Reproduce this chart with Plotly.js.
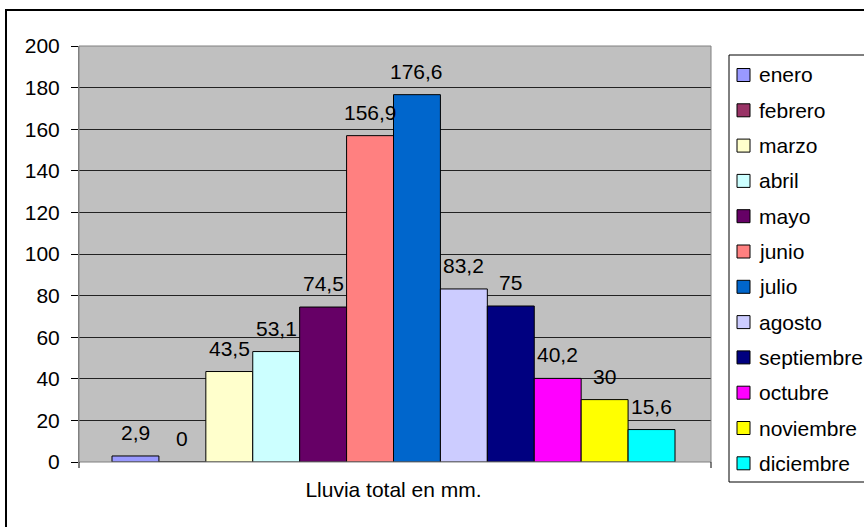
<!DOCTYPE html>
<html>
<head>
<meta charset="utf-8">
<script src="https://cdn.plot.ly/plotly-3.0.1.min.js"></script>
<style>html,body{margin:0;padding:0;background:#fff;}#chart{width:864px;height:527px;}</style>
</head>
<body>
<div id="chart"></div>
<script>
// ---- data ----
var category = 'Lluvia total en mm.';
var months = ['enero','febrero','marzo','abril','mayo','junio','julio','agosto','septiembre','octubre','noviembre','diciembre'];
var rainfall = [2.9, 0, 43.5, 53.1, 74.5, 156.9, 176.6, 83.2, 75, 40.2, 30, 15.6];
var colors = ['#9999FF','#993366','#FFFFCC','#CCFFFF','#660066','#FF8080','#0066CC','#CCCCFF','#000080','#FF00FF','#FFFF00','#00FFFF'];
var yTicks = [0,20,40,60,80,100,120,140,160,180,200];

// ---- geometry (pixels of the 864x527 page) ----
var W = 864, H = 527;
var plotL = 79, plotR = 711, plotT = 46, plotB = 462;
var pw = plotR - plotL, ph = plotB - plotT;
function px(x){ return (x - plotL) / pw; }
function py(y){ return (plotB - y) / ph; }

var FONT = '"Liberation Sans", Arial, sans-serif';
var FS = 21;

var traces = months.map(function(m, i){
  return {
    type: 'bar',
    name: m,
    x: [i],
    y: [rainfall[i]],
    width: 1,
    marker: {color: colors[i], line: {color: '#000000', width: 1}},
    hoverinfo: 'name+y',
    showlegend: false
  };
});

var annotations = months.map(function(m, i){
  return {
    x: i, y: rainfall[i], xref: 'x', yref: 'y',
    text: String(rainfall[i]).replace('.', ','),
    showarrow: false, yanchor: 'bottom', yshift: 10,
    font: {family: FONT, size: FS, color: '#000'}
  };
});

var shapes = [];
// outer chart border
shapes.push({type: 'rect', xref: 'paper', yref: 'paper', x0: px(6), x1: px(W + 40), y0: py(10), y1: py(H + 40),
  line: {color: '#000', width: 2}, fillcolor: 'rgba(0,0,0,0)', layer: 'above'});
// plot area border
shapes.push({type: 'rect', xref: 'paper', yref: 'paper', x0: 0, x1: 1, y0: 0, y1: 1,
  line: {color: '#808080', width: 1}, fillcolor: 'rgba(0,0,0,0)', layer: 'above'});
// category boundary ticks
[0, 1].forEach(function(xx){
  shapes.push({type: 'line', xref: 'paper', yref: 'paper', x0: xx, x1: xx, y0: 0, y1: py(plotB + 6),
    line: {color: '#000', width: 1}});
});

// manual legend
var legL = 729, legT = 55, legB = 482, legRow0 = 75, legStep = 35.3;
shapes.push({type: 'rect', xref: 'paper', yref: 'paper', x0: px(legL), x1: px(W + 40), y0: py(legB), y1: py(legT),
  line: {color: '#000', width: 1}, fillcolor: '#fff', layer: 'below'});
months.forEach(function(m, i){
  var cy = legRow0 + legStep * i;
  shapes.push({type: 'rect', xref: 'paper', yref: 'paper', x0: px(737), x1: px(750), y0: py(cy + 6.5), y1: py(cy - 6.5),
    line: {color: '#000', width: 1}, fillcolor: colors[i], layer: 'above'});
  annotations.push({x: px(757), y: py(cy), xref: 'paper', yref: 'paper', xanchor: 'left', yanchor: 'middle',
    text: m, showarrow: false, font: {family: FONT, size: FS, color: '#000'}});
});

var layout = {
  width: W, height: H,
  margin: {l: plotL, r: W - plotR, t: plotT, b: H - plotB, autoexpand: false},
  paper_bgcolor: '#ffffff',
  plot_bgcolor: '#C0C0C0',
  font: {family: FONT, size: FS, color: '#000'},
  showlegend: false,
  barmode: 'group',
  xaxis: {
    range: [-0.5 - 33/46.92, 11.5 + 36/46.92],
    tickvals: [5.5], ticktext: [category],
    ticks: '', ticklabelstandoff: 13,
    showgrid: false, zeroline: false, showline: false,
    tickfont: {family: FONT, size: FS, color: '#000'},
    fixedrange: true
  },
  yaxis: {
    range: [0, 200],
    tickvals: yTicks,
    ticks: 'outside', ticklen: 7, tickcolor: '#000', tickwidth: 1,
    ticklabelstandoff: 7,
    showgrid: true, gridcolor: '#222', gridwidth: 1,
    zeroline: false, showline: true, linecolor: '#808080', linewidth: 1,
    tickfont: {family: FONT, size: FS, color: '#000'},
    fixedrange: true
  },
  shapes: shapes,
  annotations: annotations
};

Plotly.newPlot('chart', traces, layout, {displayModeBar: false, staticPlot: true});
</script>
</body>
</html>
